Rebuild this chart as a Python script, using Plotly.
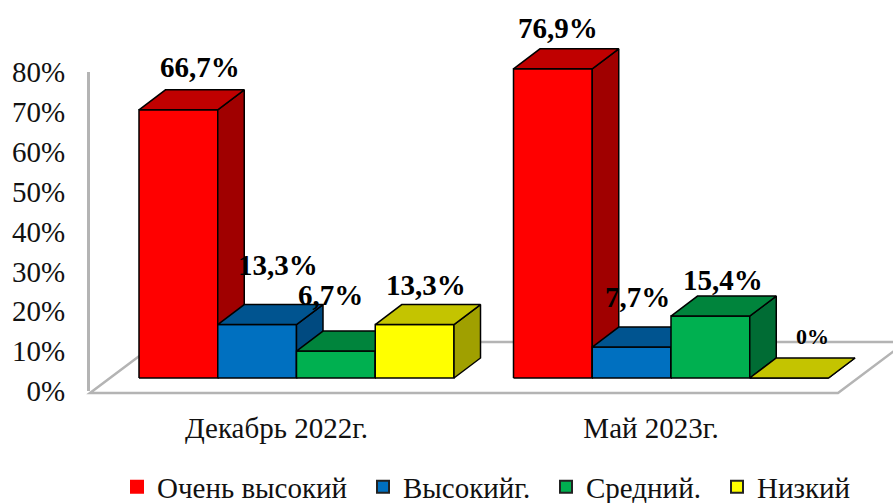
import plotly.graph_objects as go

categories = ["Декабрь 2022г.", "Май 2023г."]
series_names = ["Очень высокий", "Высокийг.", "Средний.", "Низкий"]
very_high = [66.7, 76.9]
high = [13.3, 7.7]
medium = [6.7, 15.4]
low = [13.3, 0]
y_ticks = [0, 10, 20, 30, 40, 50, 60, 70, 80]

series_values = [very_high, high, medium, low]
front_colors = ["#FF0000", "#0070C0", "#00B050", "#FFFF00"]
top_colors = ["#C00000", "#005490", "#00843C", "#C4C400"]
side_colors = ["#A00000", "#004A80", "#006C34", "#A0A000"]

W, H = 893, 503
FONT = "Liberation Serif"
BAR_PX = 78.75
X0_PX = 139
GROUP_STEP = 374.5 / BAR_PX
PLOT_LEFT = 90
Y0_PX = 378
PER_PCT = 4.02
DEPTH_X = 26.5 / BAR_PX
DEPTH_Y = 20 / PER_PCT
GRAY = "#B4B4B4"

# label offsets in pixels from the front-top centre of each bar: series -> group
label_shift = [
    [(22, 43), (5, 41)],
    [(21, 60), (6, 50)],
    [(-5, 56), (13, 36)],
    [(11, 40), (23, 42)],
]


def fmt(v):
    return "0%" if v == 0 else f"{v:.1f}".replace(".", ",") + "%"


def polygons(parts):
    xs, ys = [], []
    for px, py in parts:
        xs += px + [px[0], None]
        ys += py + [py[0], None]
    return xs, ys


fig = go.Figure()
annotations = []

for s, (name, vals) in enumerate(zip(series_names, series_values)):
    fronts, sides, tops = [], [], []
    for g, v in enumerate(vals):
        a = g * GROUP_STEP + s
        b = a + 1
        fronts.append(([a, b, b, a], [0, 0, v, v]))
        sides.append(([b, b + DEPTH_X, b + DEPTH_X, b], [0, DEPTH_Y, v + DEPTH_Y, v]))
        tops.append(([a, b, b + DEPTH_X, a + DEPTH_X], [v, v, v + DEPTH_Y, v + DEPTH_Y]))
        dx, dy = label_shift[s][g]
        annotations.append(dict(
            x=a + 0.5, y=v, xref="x", yref="y2", xshift=dx, yshift=dy,
            text=f"<b>{fmt(v)}</b>", showarrow=False, xanchor="center", yanchor="middle",
            font=dict(family=FONT, size=22 if v == 0 else 29, color="black"),
        ))
    for parts, color in ((fronts, front_colors[s]), (sides, side_colors[s]), (tops, top_colors[s])):
        xs, ys = polygons(parts)
        fig.add_trace(go.Scatter(
            x=xs, y=ys, yaxis="y2", mode="lines", fill="toself", fillcolor=color,
            line=dict(color="black", width=1.5), showlegend=False, hoverinfo="skip",
        ))

legend_left = [117, 363, 546, 717]
legends = {}
for s, name in enumerate(series_names):
    key = "legend" if s == 0 else f"legend{s + 1}"
    fig.add_trace(go.Scatter(
        x=[None], y=[None], mode="markers", name=name, legend=key,
        marker=dict(symbol="square", size=13, color=front_colors[s],
                    line=dict(color="#222222" if s else front_colors[s], width=1)),
    ))
    legends[key] = dict(
        x=legend_left[s] / W, xanchor="left", y=1 - 487 / H, yanchor="middle",
        orientation="h", bgcolor="rgba(0,0,0,0)", itemsizing="constant",
        font=dict(family=FONT, size=29, color="#111111"),
    )


def fx(px):
    return px / W


def fy(py):
    return 1 - py / H


floor = [(90, 393), (838, 393), (906, 342), (158, 342)]
path = "M " + " L ".join(f"{fx(x):.5f},{fy(y):.5f}" for x, y in floor) + " Z"

fig.update_layout(
    width=W, height=H,
    margin=dict(l=0, r=0, t=0, b=0, autoexpand=False),
    paper_bgcolor="white", plot_bgcolor="rgba(0,0,0,0)",
    showlegend=True,
    annotations=annotations,
    shapes=[dict(type="path", path=path, xref="paper", yref="paper", layer="below",
                 fillcolor="white", line=dict(color=GRAY, width=2.5))],
    xaxis=dict(
        domain=[PLOT_LEFT / W, 1],
        range=[(PLOT_LEFT - X0_PX) / BAR_PX, (W - X0_PX) / BAR_PX],
        anchor="y", showgrid=False, zeroline=False, showline=False,
        tickmode="array",
        tickvals=[g * GROUP_STEP + 2 - 20 / BAR_PX for g in range(len(categories))],
        ticktext=categories,
        ticks="outside", ticklen=11, tickcolor="rgba(0,0,0,0)",
        tickfont=dict(family=FONT, size=29, color="#111111"),
    ),
    yaxis=dict(
        domain=[1 - 391 / H, 1 - 72 / H], range=[0, 80], anchor="x",
        tickmode="array", tickvals=y_ticks, ticktext=[f"{t}%" for t in y_ticks],
        showgrid=False, zeroline=False, showline=True, linecolor=GRAY, linewidth=3,
        ticks="outside", ticklen=16, tickcolor="rgba(0,0,0,0)",
        tickfont=dict(family=FONT, size=29, color="#111111"),
    ),
    yaxis2=dict(
        domain=[0, 1], range=[(Y0_PX - H) / PER_PCT, Y0_PX / PER_PCT],
        anchor="x", visible=False,
    ),
    **legends,
)

fig.write_html("out.html", config={"displayModeBar": False},
               post_script="document.body.style.margin='0';")
